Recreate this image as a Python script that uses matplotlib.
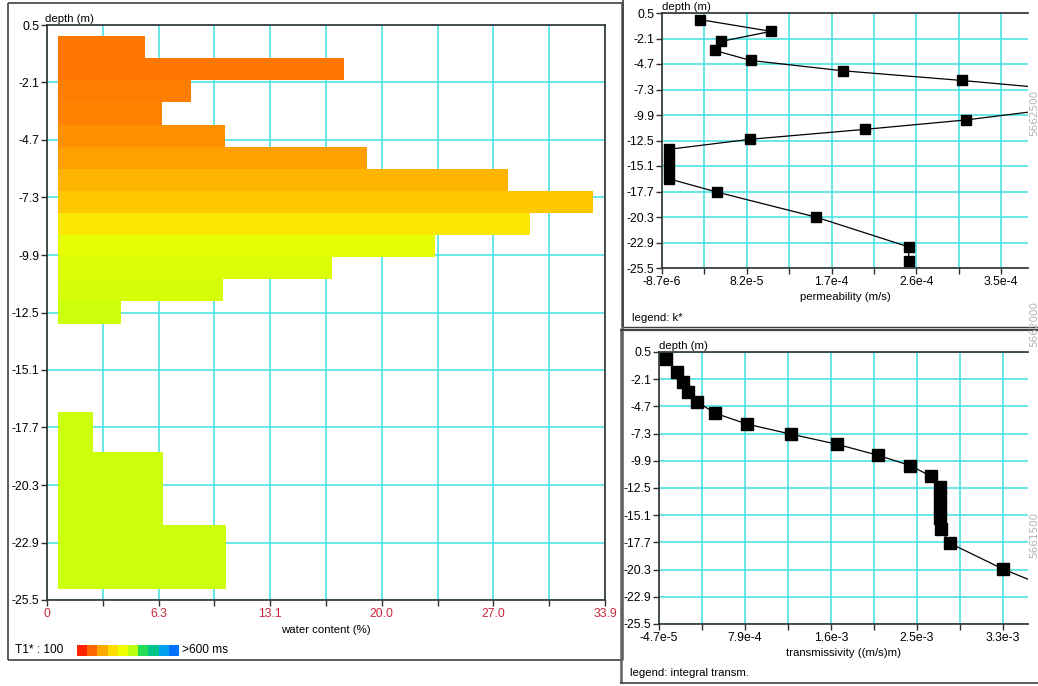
import matplotlib
matplotlib.use('Agg')
import matplotlib.pyplot as plt
import numpy as np
from matplotlib.colors import LinearSegmentedColormap
from matplotlib.patches import Rectangle
from matplotlib.lines import Line2D

plt.rcParams['font.family'] = ['Liberation Sans', 'DejaVu Sans']

# ---------------- data ----------------
# water content layers (depth in m, water content in %)
wc_top = [0.0, -1.0, -2.0, -3.0, -4.0, -5.0, -6.0, -7.0, -8.0, -9.0, -10.0, -11.0, -12.0,
          -17.0, -18.8, -22.1]
wc_bottom = [-1.0, -2.0, -3.0, -4.0, -5.0, -6.0, -7.0, -8.0, -9.0, -10.0, -11.0, -12.0, -13.0,
             -18.8, -22.1, -25.0]
wc_value = [5.98, 18.03, 8.76, 7.01, 10.80, 19.42, 28.0, 33.2, 29.34, 23.58, 17.33, 10.71, 4.47,
            2.81, 7.06, 10.85]
wc_t1 = [169, 170, 175, 180, 190, 203, 224, 244, 285, 333, 342, 350, 359, 359, 359, 359]
WC_BASE = 0.65

depth_ticks = [0.5, -2.1, -4.7, -7.3, -9.9, -12.5, -15.1, -17.7, -20.3, -22.9, -25.5]
depth_labels = ['0.5', '-2.1', '-4.7', '-7.3', '-9.9', '-12.5', '-15.1', '-17.7', '-20.3', '-22.9', '-25.5']

wc_xlabels = ['0', '6.3', '13.1', '20.0', '27.0', '33.9']

# permeability k* (m/s) vs depth (m)
k_depth = [-0.18, -1.37, -2.40, -3.32, -4.34, -5.39, -6.38, -7.4, -8.4, -9.4, -10.40, -11.36,
           -12.38, -13.4, -14.4, -15.4, -16.4, -17.76, -20.32, -23.35, -24.81]
k_value = [3.22e-5, 1.077e-4, 5.43e-5, 4.75e-5, 8.63e-5, 1.843e-4, 3.117e-4, 4.3e-4, 4.5e-4,
           4.0e-4, 3.163e-4, 2.084e-4, 8.49e-5, -1.5e-6, -1.5e-6, -1.5e-6, -1.5e-6, 5.0e-5,
           1.561e-4, 2.547e-4, 2.547e-4]
k_xlabels = ['-8.7e-6', '8.2e-5', '1.7e-4', '2.6e-4', '3.5e-4']

# integral transmissivity ((m/s)m) vs depth (m)
t_depth = [-0.15, -1.38, -2.35, -3.30, -4.25, -5.35, -6.40, -7.36, -8.32, -9.37, -10.35, -11.40,
           -12.40, -13.40, -14.40, -15.40, -16.40, -17.77, -20.25, -23.35, -24.81]
t_value = [2.5e-5, 1.29e-4, 1.88e-4, 2.34e-4, 3.25e-4, 5.01e-4, 8.18e-4, 1.249e-3, 1.696e-3,
           2.097e-3, 2.411e-3, 2.62e-3, 2.70e-3, 2.70e-3, 2.705e-3, 2.705e-3, 2.71e-3, 2.799e-3,
           3.321e-3, 4.10e-3, 4.47e-3]
t_xlabels = ['-4.7e-5', '7.9e-4', '1.6e-3', '2.5e-3', '3.3e-3']

t1_legend_colors = ['#ff2200', '#ff6600', '#ffaa00', '#ffdd00', '#eeff00', '#bbff11',
                    '#22dd55', '#00c48a', '#00a0ee', '#0070ff']
T1_MIN, T1_MAX = 100, 600

map_labels = ['5662500', '5662000', '5661500']

# ---------------- figure ----------------
W, H = 1038, 686
fig = plt.figure(figsize=(W / 100, H / 100), dpi=100)
fig.patch.set_facecolor('white')


def fx(x):
    return x / W


def fy(y):
    return 1 - y / H


def axes_px(x0, y0, x1, y1):
    return fig.add_axes([fx(x0), fy(y1), (x1 - x0) / W, (y1 - y0) / H])


GRID = '#40e0e0'
SPINE = '#303030'
TICKFS = 8.8
LABFS = 8.2

cmap = LinearSegmentedColormap.from_list('t1', t1_legend_colors)


def style_axes(ax, right_spine=True):
    ax.set_facecolor('white')
    for s in ax.spines.values():
        s.set_color(SPINE)
        s.set_linewidth(1.2)
    if not right_spine:
        ax.spines['right'].set_visible(False)
    ax.set_axisbelow(True)
    ax.grid(True, color=GRID, linewidth=1.1)
    ax.tick_params(axis='both', direction='out', length=4, width=1, color=SPINE,
                   labelsize=TICKFS, pad=1.5)
    ax.set_yticks(depth_ticks)
    ax.set_yticklabels(depth_labels)
    ax.set_ylim(-25.5, 0.5)


# ---- left panel: water content ----
ax1 = axes_px(47, 25, 605, 600)
style_axes(ax1)
xmax1 = 33.9
grid1 = np.linspace(0, xmax1, 11)
ax1.set_xticks(grid1)
lab1 = []
for i in range(11):
    lab1.append(wc_xlabels[i // 2] if i % 2 == 0 else '')
ax1.set_xticklabels(lab1, color='#c8283c')
ax1.set_xlim(0, xmax1)
for top, bot, val, t1 in zip(wc_top, wc_bottom, wc_value, wc_t1):
    c = cmap((t1 - T1_MIN) / (T1_MAX - T1_MIN))
    ax1.barh((top + bot) / 2, val - WC_BASE, height=top - bot, left=WC_BASE,
             color=c, edgecolor='none', zorder=2)
ax1.set_xlabel('water content (%)', fontsize=LABFS, labelpad=4)
fig.text(fx(45), fy(24), 'depth (m)', fontsize=LABFS, ha='left', va='bottom')

# ---- top right: permeability ----
ax2 = axes_px(662, 13, 1028, 268)
style_axes(ax2, right_spine=False)
k0, kstep = -8.7e-6, 9.05e-5
grid2 = [k0 + i * kstep / 2 for i in range(9)]
ax2.set_xticks(grid2)
ax2.set_xticklabels([k_xlabels[i // 2] if i % 2 == 0 else '' for i in range(9)])
ax2.set_xlim(k0, k0 + 4.318 * kstep)
ax2.plot(k_value, k_depth, color='black', lw=0.9, marker='s', markersize=6.8,
         markerfacecolor='black', markeredgecolor='black', zorder=3)
ax2.set_xlabel('permeability (m/s)', fontsize=LABFS, labelpad=3)
fig.text(fx(662), fy(12), 'depth (m)', fontsize=LABFS, ha='left', va='bottom')
fig.text(fx(632), fy(318), 'legend: k*', fontsize=LABFS, ha='left', va='center')

# ---- bottom right: transmissivity ----
ax3 = axes_px(659, 352, 1028, 624)
style_axes(ax3, right_spine=False)
t0, tstep = -4.7e-5, 8.42e-4
grid3 = [t0 + i * tstep / 2 for i in range(9)]
ax3.set_xticks(grid3)
ax3.set_xticklabels([t_xlabels[i // 2] if i % 2 == 0 else '' for i in range(9)])
ax3.set_xlim(t0, t0 + 4.29 * tstep)
ax3.plot(t_value, t_depth, color='black', lw=0.9, marker='s', markersize=8,
         markerfacecolor='black', markeredgecolor='black', zorder=3)
ax3.set_xlabel('transmissivity ((m/s)m)', fontsize=LABFS, labelpad=3)
fig.text(fx(659), fy(351), 'depth (m)', fontsize=LABFS, ha='left', va='bottom')
fig.text(fx(630), fy(673), 'legend: integral transm.', fontsize=LABFS, ha='left', va='center')

# ---- frames ----
def fline(x0, y0, x1, y1, color='#404040', lw=1.2):
    fig.add_artist(Line2D([fx(x0), fx(x1)], [fy(y0), fy(y1)], transform=fig.transFigure,
                          color=color, lw=lw, solid_capstyle='butt'))

# left panel frame
fline(8, 3, 623, 3)
fline(8, 3, 8, 660)
fline(8, 660, 622, 660)
fline(622, 3, 622, 660, color='#707070', lw=2.0)
# top right frame
fline(623, 0, 623, 327)
fline(623, 327, 1038, 327, lw=1.0)
# bottom right frame
fline(620, 330, 1038, 330, lw=1.6)
fline(621, 330, 621, 683, color='#606060', lw=1.8)
fline(620, 683, 1038, 683, lw=1.2)

# ---- T1 legend ----
fig.text(fx(15), fy(650), 'T1* : 100', fontsize=LABFS + 0.4, ha='left', va='center')
n = len(t1_legend_colors)
x0, x1 = 77, 179
cw = (x1 - x0) / n
for i, c in enumerate(t1_legend_colors):
    fig.add_artist(Rectangle((fx(x0 + i * cw), fy(656)), cw / W, 11 / H,
                             transform=fig.transFigure, facecolor=c, edgecolor='none'))
fig.text(fx(182), fy(650), '>600 ms', fontsize=LABFS + 0.4, ha='left', va='center')

# ---- background map coordinates along the right edge ----
for lab, yc in zip(map_labels, [113, 324, 535]):
    fig.text(fx(1029), fy(yc), lab, rotation=90, fontsize=7.5, color='#b4b4b4',
             ha='left', va='center', family='DejaVu Sans')

fig.savefig('out.png', dpi=100)
